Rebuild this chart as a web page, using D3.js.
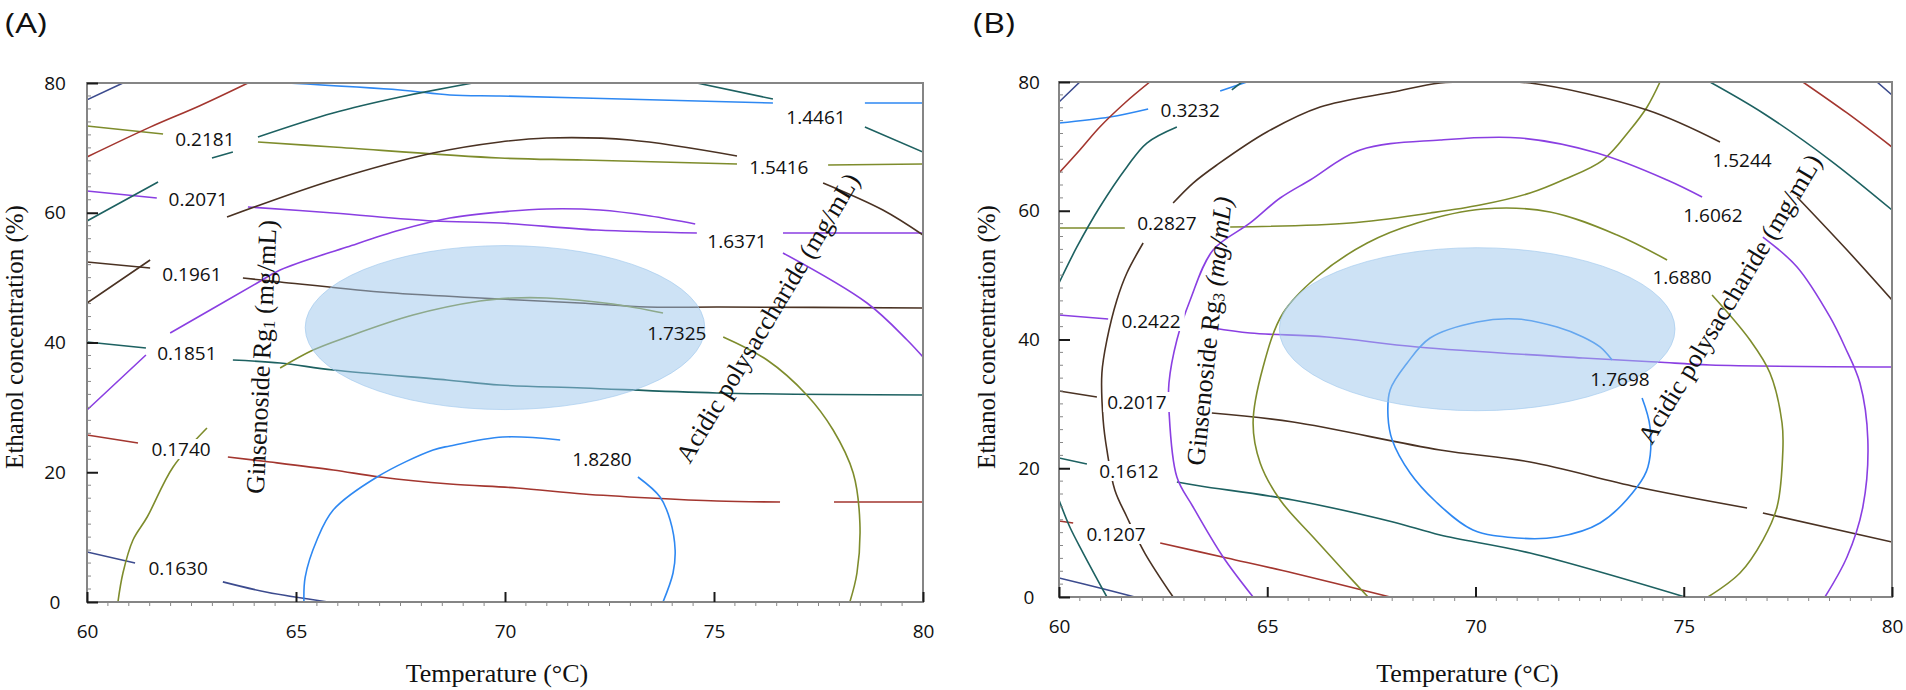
<!DOCTYPE html>
<html><head><meta charset="utf-8">
<script src="https://cdn.jsdelivr.net/npm/d3@7"></script>
<style>body{margin:0;background:#fff}svg{display:block}</style>
</head><body><svg id="chart" width="1906" height="690"></svg>
<script>
// ---------- axes ----------
const xTicks = [60, 65, 70, 75, 80];
const yTicks = [0, 20, 40, 60, 80];
const xTitle = "Temperature (°C)";
const yTitle = "Ethanol concentration (%)";

// ---------- Panel A : Ginsenoside Rg1 contours  [temperature °C, ethanol %] ----------
const aRg1_1630 = [[60,7.7],[61.15,6.0],null,[63.25,3.1],[64.31,1.5],[65.77,0]];
const aRg1_1740 = [[60,25.74],[61.22,24.51],null,[63.37,22.35],[64.38,21.58],[65.89,20.35],[67.01,19.27],[68.68,18.19],[70.29,17.57],[71.87,16.65],[73.47,16.03],[75.07,15.57],[76.58,15.41],null,[77.87,15.41],[80,15.41]];
const aRg1_1851 = [[60,40.08],[61.41,39.15],null,[63.49,37.30],[64.62,36.84],[65.89,35.76],[68.61,34.22],[69.88,33.45],[71.87,32.99],[75.07,32.22],[80,31.91]];
const aRg1_1961 = [[60,52.41],[61.51,51.48],null,[63.73,49.94],[64.62,49.33],[67.01,47.78],[69.40,46.86],[71.79,46.09],[73.40,45.47],[75.14,45.47],[80,45.32]];
const aRg1_2071 = [[60,63.35],[61.67,62.27],null,[63.85,60.89],[65.89,59.96],[68.28,58.73],[69.88,58.42],[72.20,57.34],[74.59,56.88],null,[76.65,56.88],[80,56.88]];
const aRg1_2181 = [[60,73.37],[61.82,72.14],null,[64.09,70.91],[65.89,70.14],[69.88,68.44],[71.87,68.13],[75.55,67.52],null,[77.73,67.36],[80,67.52]];
const aRg1_2291 = [[64.78,80],[67.49,78.92],[68.68,78.15],[69.88,78.0],[71.87,77.69],[76.41,76.92],null,[78.61,76.92],[80,76.92]];

// ---------- Panel A : acidic polysaccharide contours ----------
const aAcid_1255 = [[60,77.4],[60.86,80]];
const aAcid_1351 = [[60,68.6],[61.51,73.2],[62.70,76.5],[63.85,80]];
const aAcid_1446 = [[60,58.73],[61.70,64.74],null,[62.99,68.44],[63.49,69.36],null,[64.09,71.68],[65.89,75.38],[67.49,77.84],[69.23,80],null,[74.59,80],[76.41,77.53],null,[78.61,73.22],[80,69.36]];
const aAcid_1542 = [[60,46.09],[61.51,52.72],null,[63.35,59.34],[65.89,65.05],[68.28,69.21],[69.88,70.91],[71.00,71.52],[72.99,71.21],[75.55,68.75],null,[77.61,64.59],[79.04,60.42],[80,56.57]];
const aAcid_1637 = [[60,29.60],[61.41,38.07],null,[61.99,41.46],[64.07,49.17],[64.62,51.18],[66.22,54.72],[67.49,57.34],[68.68,59.19],[69.88,60.12],[71.00,60.58],[72.27,60.42],[73.47,59.50],[74.55,58.27],null,[76.65,53.80],[78.66,46.09],[79.62,40.39],[80,37.76]];
const aAcid_1733 = [[60.74,0],[60.86,4.47],[61.10,9.56],[61.44,13.10],[62.06,20.81],[62.87,26.82],null,[64.62,36.07],[65.41,38.84],[66.22,40.85],[67.80,44.24],[69.40,46.40],[70.19,46.86],[71.00,46.86],[72.58,45.93],[73.78,44.55],null,[75.22,40.85],[76.27,37.30],[77.22,31.91],[77.85,26.51],[78.33,19.88],[78.49,12.18],[78.42,4.47],[78.25,0]];
const aAcid_1828 = [[65.19,0],[65.22,3.85],[65.50,9.56],[65.89,14.18],[66.94,19.27],[68.28,23.43],[68.68,24.05],[69.95,25.43],[71.32,24.97],null,[73.18,19.27],[73.71,16.18],[73.95,12.64],[74.07,8.02],[74.02,4.47],[73.78,0]];

// labels: [text, temperature, ethanol]
const aRg1Labels = [["0.2181",62.82,71.37],["0.2071",62.66,62.12],["0.1961",62.51,50.56],["0.1851",62.39,38.38],["0.1740",62.25,23.58],["0.1630",62.18,5.24]];
const aAcidLabels = [["1.4461",77.44,74.76],["1.5416",76.55,67.05],["1.6371",75.55,55.65],["1.7325",74.11,41.46],["1.8280",72.32,22.04]];
// optimum region: [temperature centre, ethanol centre, temperature half-width, ethanol half-height]
const aOptimum = [70.0, 42.3, 4.78, 12.64];

// ---------- Panel B : Ginsenoside Rg3 contours ----------
const bRg3_0080 = [[60,2.95],[60.98,1.40],[61.82,0]];
const bRg3_1207 = [[60,11.81],[60.34,11.50],null,[62.43,8.39],[64.03,6.06],[65.62,3.73],[67.95,0]];
const bRg3_1612 = [[60,21.59],[60.67,20.66],null,[62.83,17.86],[63.39,17.24],[65.62,15.07],[68.02,11.65],[69.15,9.63],[71.31,6.83],[75.03,0]];
const bRg3_2017 = [[60,32.0],[60.91,31.07],null,[63.67,28.58],[65.62,27.18],[69.15,22.84],[71.31,20.97],[73.88,17.09],[76.52,13.83],null,[76.90,13.05],[80,8.54]];
const bRg3_2422 = [[60,43.81],[61.18,43.18],null,[63.70,41.79],[64.59,41.01],[66.43,40.39],[68.60,38.84],[72.58,37.13],[74.36,36.50],[75.63,36.04],[80,35.73]];
const bRg3_2827 = [[60,57.32],[61.58,57.32],null,[64.11,57.48],[66.99,58.10],[68.91,59.65],[70.11,60.89],[71.31,62.76],[72.10,64.78],[73.06,67.88],[73.71,72.54],[74.12,76.12],[74.43,80]];
const bRg3_3232 = [[60,73.63],[61.22,74.56],[62.14,75.81],null,[63.87,78.60],[64.51,80]];

// ---------- Panel B : acidic polysaccharide contours ----------
const bAcid_1279 = [[60,76.89],[60.50,80],null,[79.64,80],[80,77.98]];
const bAcid_1361 = [[60,65.86],[60.50,69.44],[60.98,73.01],[61.58,76.74],[62.18,80],null,[77.86,80],[78.92,75.19],[80,69.90]];
const bAcid_1443 = [[60,48.78],[60.43,54.37],[60.98,60.58],[61.63,66.80],[62.11,70.52],[62.83,73.01],null,[64.15,78.76],[64.39,80],null,[75.63,80],[76.90,75.19],[78.51,67.88],[80,60.12],null,[60,15.07],[60.26,10.87],[60.58,6.83],[61.15,0]];
const bAcid_1524 = [[62.74,0],[62.06,6.83],[61.63,12.43],[61.34,16.62],[61.15,22.84],[61.06,27.50],[61.03,34.80],[61.15,39.92],[61.39,46.14],[61.63,50.33],[62.02,54.99],null,[62.74,61.20],[63.22,64.30],[63.79,67.11],[64.99,72.23],[66.27,76.12],[68.02,78.45],[69.15,79.84],[70.23,80],[71.31,79.84],[74.12,75.65],[75.87,70.68],null,[77.72,62.14],[78.92,53.90],[80,46.14]];
const bAcid_1606 = [[64.66,0],[63.94,6.21],[63.22,13.98],[62.83,18.64],[62.64,29.05],[62.64,33.24],[62.83,39.92],[63.15,46.14],[63.70,53.90],[64.59,58.10],[65.31,61.98],[66.03,64.78],[67.23,69.44],[69.15,70.99],[71.07,71.30],[72.92,68.97],[74.60,64.78],[75.44,62.14],null,[76.90,55.92],[77.72,51.26],[78.51,43.50],[78.87,38.84],[79.23,33.24],[79.42,24.39],[79.30,13.98],[78.92,6.21],[78.39,0]];
const bAcid_1688 = [[67.42,0],[66.82,4.19],[66.10,9.32],[65.31,15.07],[64.83,20.82],[64.66,27.03],[64.90,35.73],[65.38,44.12],[66.19,49.71],[67.40,54.99],[68.60,58.10],[70.18,60.27],[71.79,59.81],[73.40,56.23],[74.60,52.35],null,[75.68,46.91],[76.59,39.92],[77.07,34.80],[77.36,27.03],[77.38,22.84],[77.24,13.98],[76.90,8.85],[76.35,3.73],[75.58,0]];
const bAcid_1770 = [[74.00,30.91],[74.19,26.41],[74.14,20.19],[73.88,17.09],[72.99,11.50],[71.96,9.32],[71.00,9.17],[69.94,10.41],[69.03,14.91],[68.43,19.26],[68.00,24.39],[67.90,27.96],[67.95,32.16],[68.36,36.35],[68.91,40.23],[70.04,42.72],[71.00,43.18],[71.96,41.94],[72.58,40.39],[72.99,38.84],[73.28,36.82]];

const bRg3Labels = [["0.3232",63.15,75.65],["0.2827",62.59,58.10],["0.2422",62.21,42.87],["0.2017",61.87,30.29],["0.1612",61.68,19.57],["0.1207",61.37,9.79]];
const bAcidLabels = [["1.5244",76.40,67.88],["1.6062",75.70,59.34],["1.6880",74.96,49.71],["1.7698",73.47,33.86]];
const bOptimum = [70.04, 41.6, 4.75, 12.66];

// ---------- styles ----------
const palette = {navy:"#3c4b8e", red:"#a3362f", olive:"#7e8c2c", teal:"#1d6161", purple:"#8a3fe2", brown:"#4a3223", blue:"#2e88f2"};
const SANS = "'Open Sans', 'Noto Sans', sans-serif";
const SERIF = "'Liberation Serif', 'Times New Roman', serif";

const panels = [
  { key:"A", name:"(A)", nameX:5, box:[87,923,83,602], yLabOff:32, yTitleX:23,
    contours:[[aRg1_1630,"navy"],[aRg1_1740,"red"],[aRg1_1851,"teal"],[aRg1_1961,"brown"],[aRg1_2071,"purple"],[aRg1_2181,"olive"],[aRg1_2291,"blue"],
              [aAcid_1255,"navy"],[aAcid_1351,"red"],[aAcid_1446,"teal"],[aAcid_1542,"brown"],[aAcid_1637,"purple"],[aAcid_1733,"olive"],[aAcid_1828,"blue"]],
    labels:[...aRg1Labels, ...aAcidLabels], optimum:aOptimum,
    gTitle:{t:64.17, e:37.77, rot:-87.3, sub:"1", italic:false},
    aTitle:{t:76.29, e:43.78, rot:-59} },
  { key:"B", name:"(B)", nameX:973, box:[1059,1892,82,597], yLabOff:30, yTitleX:995,
    contours:[[bRg3_0080,"navy"],[bRg3_1207,"red"],[bRg3_1612,"teal"],[bRg3_2017,"brown"],[bRg3_2422,"purple"],[bRg3_2827,"olive"],[bRg3_3232,"blue"],
              [bAcid_1279,"navy"],[bAcid_1361,"red"],[bAcid_1443,"teal"],[bAcid_1524,"brown"],[bAcid_1606,"purple"],[bAcid_1688,"olive"],[bAcid_1770,"blue"]],
    labels:[...bRg3Labels, ...bAcidLabels], optimum:bOptimum,
    gTitle:{t:63.60, e:41.32, rot:-84.1, sub:"3", italic:true},
    aTitle:{t:76.11, e:46.29, rot:-59} }
];

const svg = d3.select("#chart");
svg.append("rect").attr("width",1906).attr("height",690).attr("fill","#fff");
const defs = svg.append("defs");

panels.forEach(p => {
  const [x0,x1,y0,y1] = p.box;
  const x = d3.scaleLinear().domain([60,80]).range([x0,x1]);
  const y = d3.scaleLinear().domain([0,80]).range([y1,y0]);
  const line = d3.line().defined(d => d !== null).x(d => x(d[0])).y(d => y(d[1])).curve(d3.curveCatmullRom.alpha(0.5));

  defs.append("clipPath").attr("id","clip"+p.key).append("rect")
    .attr("x",x0).attr("y",y0).attr("width",x1-x0).attr("height",y1-y0);

  const g = svg.append("g");
  const plot = g.append("g").attr("clip-path",`url(#clip${p.key})`);
  const gLines = plot.append("g"), gBg = plot.append("g"), gEll = plot.append("g"), gText = g.append("g");

  p.contours.forEach(([data,c]) => {
    gLines.append("path").attr("d", line(data)).attr("fill","none")
      .attr("stroke", palette[c]).attr("stroke-width",1.6).attr("stroke-linejoin","round");
  });

  p.labels.forEach(([txt,t,e]) => {
    const tx = gText.append("text").attr("x",x(t)).attr("y",y(e)).attr("dy","0.36em")
      .attr("text-anchor","middle").attr("font-family",SANS).attr("font-size",19).attr("fill","#111").text(txt);
    const w = tx.node().getComputedTextLength();
    gBg.append("rect").attr("x",x(t)-w/2-4).attr("y",y(e)-10).attr("width",w+8).attr("height",20).attr("fill","#fff");
  });

  const [ct,ce,rt,re] = p.optimum;
  gEll.append("ellipse").attr("cx",x(ct)).attr("cy",y(ce))
    .attr("rx",x(ct+rt)-x(ct)).attr("ry",y(ce)-y(ce+re))
    .attr("fill","#9cc6ec").attr("fill-opacity",0.5).attr("stroke","#9cc6ec").attr("stroke-opacity",0.6).attr("stroke-width",1);

  // in-plot response titles
  const gt = p.gTitle;
  const t1 = gText.append("text").attr("transform",`translate(${x(gt.t)},${y(gt.e)}) rotate(${gt.rot})`)
    .attr("text-anchor","middle").attr("dominant-baseline","central")
    .attr("font-family",SERIF).attr("font-size",26).attr("fill","#111");
  t1.append("tspan").text("Ginsenoside Rg");
  t1.append("tspan").attr("font-size",17).attr("dy",6).text(gt.sub);
  t1.append("tspan").attr("dy",-6).attr("font-style", gt.italic ? "italic" : "normal").text(" (mg/mL)");

  const at = p.aTitle;
  gText.append("text").attr("transform",`translate(${x(at.t)},${y(at.e)}) rotate(${at.rot})`)
    .attr("text-anchor","middle").attr("dominant-baseline","central")
    .attr("font-family",SERIF).attr("font-size",26).attr("fill","#111")
    .text("Acidic polysaccharide (mg/mL)");

  // frame
  g.append("rect").attr("x",x0).attr("y",y0).attr("width",x1-x0).attr("height",y1-y0)
    .attr("fill","none").attr("stroke","#858585").attr("stroke-width",2);

  // minor ticks
  d3.range(60.5,80,0.5).filter(v => v % 5 !== 0).forEach(v => {
    g.append("line").attr("x1",x(v)).attr("x2",x(v)).attr("y1",y1).attr("y2",y1+4).attr("stroke","#888").attr("stroke-width",1);
  });
  d3.range(2,80,2).filter(v => v % 20 !== 0).forEach(v => {
    g.append("line").attr("x1",x0).attr("x2",x0+4).attr("y1",y(v)).attr("y2",y(v)).attr("stroke","#888").attr("stroke-width",1);
  });

  // major axes
  const xa = g.append("g").attr("transform",`translate(0,${y1})`)
    .call(d3.axisBottom(x).tickValues(xTicks).tickSize(-10).tickPadding(23).tickFormat(d3.format("d")));
  const ya = g.append("g").attr("transform",`translate(${x0},0)`)
    .call(d3.axisLeft(y).tickValues(yTicks).tickSize(-11).tickFormat(d3.format("d")));
  [xa,ya].forEach(a => {
    a.select(".domain").remove();
    a.selectAll(".tick line").attr("stroke","#1a1a1a").attr("stroke-width",2);
    a.selectAll("text").attr("font-family",SANS).attr("font-size",19).attr("fill","#111");
  });
  ya.selectAll("text").attr("x",-p.yLabOff).attr("text-anchor","middle");

  // axis titles
  svg.append("text").attr("x",(x0+x1)/2-8).attr("y",682).attr("text-anchor","middle")
    .attr("font-family",SERIF).attr("font-size",26).attr("fill","#111").text(xTitle);
  svg.append("text").attr("transform",`translate(${p.yTitleX},337) rotate(-90)`).attr("text-anchor","middle")
    .attr("font-family",SERIF).attr("font-size",25).attr("fill","#111").text(yTitle);

  // panel tag
  svg.append("text").attr("x",p.nameX).attr("y",33).attr("font-family",SANS).attr("font-size",28)
    .attr("textLength",42).attr("lengthAdjust","spacingAndGlyphs").attr("fill","#111").text(p.name);
});
</script>
</body></html>
